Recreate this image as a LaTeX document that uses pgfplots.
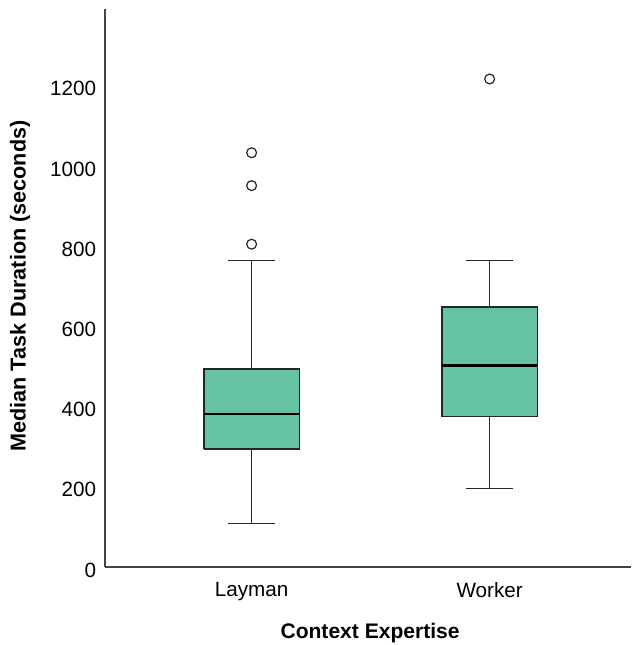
\documentclass[border=0pt]{standalone}
\usepackage{pgfplots}
\pgfplotsset{compat=1.18}
\usetikzlibrary{calc}
\usepackage{fontspec}
\setmainfont{Liberation Sans}
\definecolor{boxfill}{HTML}{66C2A5}
\definecolor{spine}{HTML}{444444}
\begin{document}
\begin{tikzpicture}
\begin{axis}[
  name=ax,
  scale only axis,
  width=394.5pt, height=418.5pt,
  xmin=0.384, xmax=2.594,
  ymin=0, ymax=1391.5,
  axis x line=bottom, axis y line=left,
  axis line style={-, spine, line width=1.1pt},
  tick style={draw=none},
  xtick={1,2}, xticklabels={Layman,Worker},
  ytick={0,200,400,600,800,1000,1200},
  tick label style={font=\fontsize{15.5}{18}\selectfont, black},
  /pgf/number format/assume math mode=true,
  /pgf/number format/1000 sep={},
  yticklabel style={xshift=-1pt, yshift=-2.25pt},
  xticklabel style={yshift=-6pt},
  xlabel={Context Expertise},
  ylabel={Median Task Duration (seconds)},
  every axis x label/.style={at={(axis description cs:0.504,-0.119)}, anchor=center, font=\fontsize{15.8}{18}\selectfont\bfseries},
  every axis y label/.style={at={(axis description cs:-0.1616,0.5036)}, rotate=90, anchor=center, font=\fontsize{16.2}{18}\selectfont\bfseries},
  clip=false,
  unbounded coords=jump,
]
% whiskers (drawn first, box on top)
\addplot[black!85, line width=1pt, mark=none] coordinates {
  (1,108) (1,294) (nan,nan) (1,494) (1,764) (nan,nan)
  (0.9,108) (1.1,108) (nan,nan) (0.9,764) (1.1,764)};
\addplot[black!85, line width=1pt, mark=none] coordinates {
  (2,195) (2,375) (nan,nan) (2,648) (2,765) (nan,nan)
  (1.9,195) (2.1,195) (nan,nan) (1.9,765) (2.1,765)};
% boxes
\addplot[fill=boxfill, draw=black!85, line width=1pt, mark=none] coordinates {
  (0.8,294) (1.2,294) (1.2,494) (0.8,494) (0.8,294)};
\addplot[fill=boxfill, draw=black!85, line width=1pt, mark=none] coordinates {
  (1.8,375) (2.2,375) (2.2,648) (1.8,648) (1.8,375)};
% medians
\addplot[black, line width=1.9pt, mark=none] coordinates {(0.8,382) (1.2,382)};
\addplot[black, line width=1.9pt, mark=none] coordinates {(1.8,503) (2.2,503)};
% outliers
\addplot[only marks, mark=o, mark size=3.7pt, black!85, mark options={line width=0.9pt, fill=white}]
  coordinates {(1,805) (1,951) (1,1033) (2,1217)};
\end{axis}
\pgfresetboundingbox
\path ($(ax.south west)+(-78.75pt,-58.5pt)$) rectangle ($(ax.north east)+(0,6.75pt)$);
\end{tikzpicture}
\end{document}
